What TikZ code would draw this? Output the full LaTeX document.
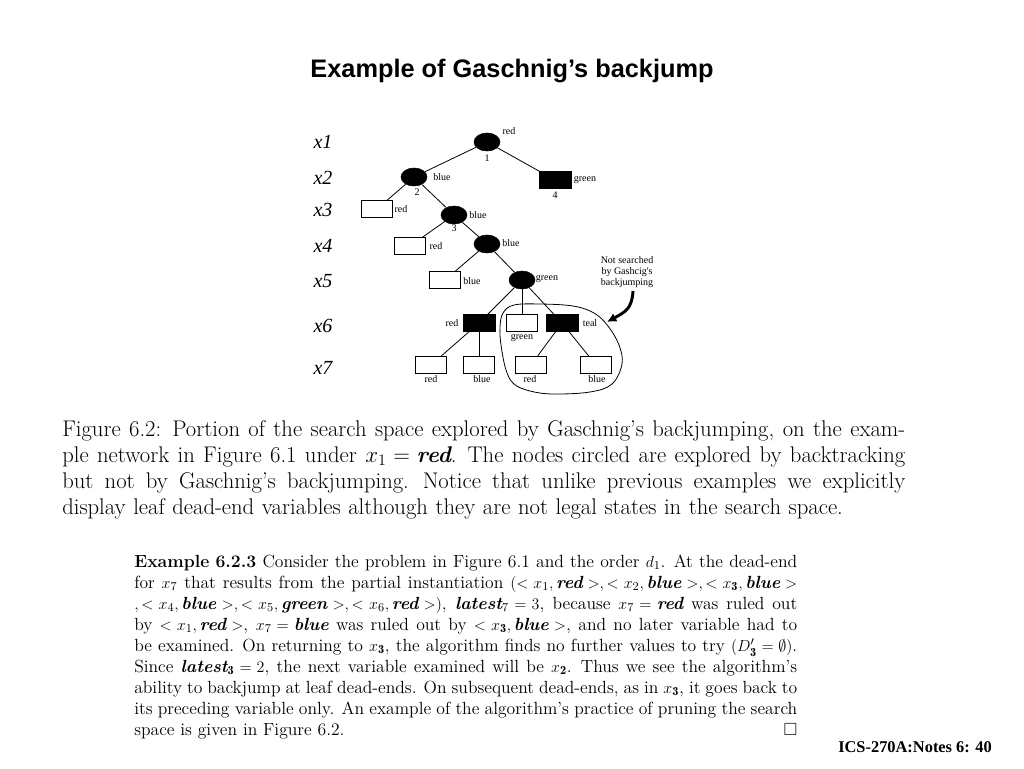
\documentclass[tikz,border=0pt]{standalone}
\usepackage{amssymb}
\usepackage{fontspec}
\newfontfamily\timesf{Liberation Serif}
\newfontfamily\arialf{Liberation Sans}
\usetikzlibrary{shapes.geometric,arrows.meta}
\newcommand{\vb}[1]{\mbox{\normalfont\bfseries\itshape #1}}
\newcommand{\jline}[1]{\hbox to \linewidth{\spaceskip=0.3333em plus 0.6em minus 0.12em\relax
  \xspaceskip=0.45em plus 0.6em minus 0.1em\relax #1}}
\tikzset{
  bnode/.style={ellipse, fill=black, draw=black, minimum width=19.5pt, minimum height=13.5pt, inner sep=0pt},
  brect/.style={rectangle, fill=black, draw=black, minimum width=24pt, minimum height=12.75pt, inner sep=0pt},
  wrect/.style={rectangle, fill=white, draw=black, line width=0.6pt, minimum width=23.25pt, minimum height=12.75pt, inner sep=0pt},
  lbl/.style={font=\timesf\fontsize{7.5}{8}\selectfont, inner sep=0pt},
  lvl/.style={font=\timesf\itshape\fontsize{15}{16}\selectfont, inner sep=0pt},
  edge/.style={draw=black, line width=0.6pt}
}
\begin{document}
\begin{tikzpicture}[x=0.75pt,y=-0.75pt]
\useasboundingbox (0,0) rectangle (1024,768);
\fill[white] (0,0) rectangle (1024,768);

% title
\node[font=\arialf\bfseries\fontsize{19}{22}\selectfont, inner sep=0pt] (title) at (512,71) {Example of Gaschnig’s backjump};

% level labels
\node[lvl] (lx1) at (323,142) {x1};
\node[lvl] (lx2) at (323,178) {x2};
\node[lvl] (lx3) at (323,210) {x3};
\node[lvl] (lx4) at (323,246) {x4};
\node[lvl] (lx5) at (323,281) {x5};
\node[lvl] (lx6) at (323,326) {x6};
\node[lvl] (lx7) at (323,368) {x7};

% tree nodes
\node[bnode] (n1) at (487,142) {};
\node[bnode] (n2) at (414,177) {};
\node[brect] (n4) at (555,180) {};
\node[wrect] (r3) at (377,209) {};
\node[bnode] (n3) at (454,215) {};
\node[wrect] (r4) at (410,246) {};
\node[bnode] (e4) at (487,244) {};
\node[wrect] (r5) at (445,280) {};
\node[bnode] (e5) at (522,280) {};
\node[brect] (r6a) at (479,323) {};
\node[wrect] (r6b) at (522,323) {};
\node[brect] (r6c) at (562,323) {};
\node[wrect] (r7a) at (431,365) {};
\node[wrect] (r7b) at (479,365) {};
\node[wrect] (r7c) at (531,365) {};
\node[wrect] (r7d) at (596,365) {};

% edges
\path[edge] (n1) -- (n2);
\path[edge] (n1) -- (n4);
\path[edge] (n2) -- (r3);
\path[edge] (n2) -- (n3);
\path[edge] (n3) -- (r4);
\path[edge] (n3) -- (e4);
\path[edge] (e4) -- (r5);
\path[edge] (e4) -- (e5);
\path[edge] (e5) -- (r6a);
\path[edge] (e5) -- (r6b);
\path[edge] (e5) -- (r6c);
\path[edge] (r6a) -- (r7a);
\path[edge] (r6a) -- (r7b);
\path[edge] (r6c) -- (r7c);
\path[edge] (r6c) -- (r7d);

% tree labels
\node[lbl] (t1) at (509,131) {red};
\node[lbl] (t1n) at (487,158) {1};
\node[lbl] (t2) at (442,177) {blue};
\node[lbl] (t2n) at (417,192) {2};
\node[lbl] (t4) at (585,180) {green};
\node[lbl] (t4n) at (555,195) {4};
\node[lbl] (t3r) at (401,209) {red};
\node[lbl] (t3) at (478,215) {blue};
\node[lbl] (t3n) at (454,228) {3};
\node[lbl] (t4r) at (436,246) {red};
\node[lbl] (t4b) at (511,243) {blue};
\node[lbl] (t5b) at (472,281) {blue};
\node[lbl] (t5g) at (547,279) {green};
\node[lbl] (t6r) at (452,323) {red};
\node[lbl] (t6g) at (522,338) {green};
\node[lbl] (t6t) at (590,323) {teal};
\node[lbl] (t7a) at (431,379) {red};
\node[lbl] (t7b) at (482,379) {blue};
\node[lbl] (t7c) at (530,379) {red};
\node[lbl] (t7d) at (597,379) {blue};

% circled region
\draw[line width=0.6pt] plot[smooth cycle, tension=0.6] coordinates {
 (500,327) (501,345) (506,370) (514,384) (530,391) (553,394) (590,392)
 (612,384) (622,364) (619,345) (608,326) (594,313) (573,306) (540,304)
 (514,305) (503,313)};

% annotation
\node[lbl, align=center] (ns) at (627,272) {Not searched\\by Gashcig's\\backjumping};
\coordinate (aS) at (633,291);
\coordinate (aE) at (607,322);
\draw[line width=2.2pt, -{Latex[length=7pt,width=7pt]}] (aS) .. controls (632,309) and (625,312) .. (aE);

% caption
\node[anchor=base west, inner sep=0pt, text width=632.25pt, font=\fontsize{17}{19.5}\selectfont] (cap) at (62,436) {%
\jline{Figure 6.2: Portion of the search space explored by Gaschnig's backjumping, on the exam-}
\jline{ple network in Figure 6.1 under $x_1 = \vb{red}$. The nodes circled are explored by backtracking}
\jline{but not by Gaschnig's backjumping. Notice that unlike previous examples we explicitly}
\hbox{display leaf dead-end variables although they are not legal states in the search space.}};

% example
\node[anchor=base west, inner sep=0pt, text width=497.25pt, font=\fontsize{13.2}{15.8}\selectfont] (ex) at (134,567) {%
\jline{\textbf{Example 6.2.3} Consider the problem in Figure 6.1 and the order $d_1$. At the dead-end}
\jline{for $x_7$ that results from the partial instantiation $(<x_1,\vb{red}>,<x_2,\vb{blue}>,<x_{\mathbf{3}},\vb{blue}>$}
\jline{$,<x_4,\vb{blue}>,<x_5,\vb{green}>,<x_6,\vb{red}>)$, $\vb{latest}_7 = 3$, because $x_7 = \vb{red}$ was ruled out}
\jline{by $<x_1,\vb{red}>$, $x_7 = \vb{blue}$ was ruled out by $<x_{\mathbf{3}},\vb{blue}>$, and no later variable had to}
\jline{be examined. On returning to $x_{\mathbf{3}}$, the algorithm finds no further values to try $(D'_{\mathbf{3}} = \emptyset)$.}
\jline{Since $\vb{latest}_{\mathbf{3}} = 2$, the next variable examined will be $x_{\mathbf{2}}$. Thus we see the algorithm's}
\jline{ability to backjump at leaf dead-ends. On subsequent dead-ends, as in $x_{\mathbf{3}}$, it goes back to}
\jline{its preceding variable only. An example of the algorithm's practice of pruning the search}
\jline{space is given in Figure 6.2.\hfill$\square$}};

% footer
\node[font=\timesf\bfseries\fontsize{12.3}{14}\selectfont, inner sep=0pt] (foot) at (915,747) {ICS-270A:Notes 6: 40};
\end{tikzpicture}
\end{document}
